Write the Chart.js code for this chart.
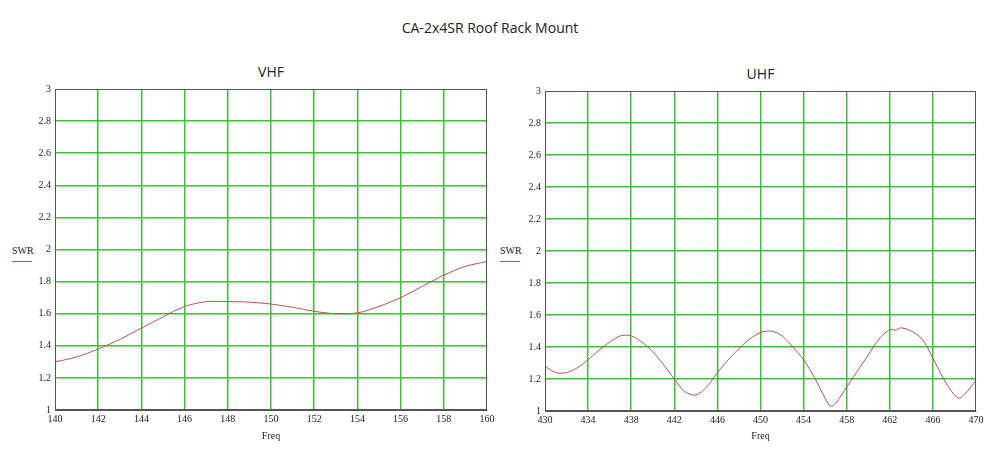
<!DOCTYPE html>
<html><head><meta charset="utf-8">
<script src="https://cdn.jsdelivr.net/npm/chart.js@4"></script>
<style>
body{margin:0;background:#fff;width:1000px;height:458px;position:relative;overflow:hidden;font-family:"Open Sans",sans-serif}
.t{position:absolute;color:#222;text-align:center}
.c{position:absolute}
.swr{position:absolute;font-family:"Liberation Serif",serif;font-size:10px;color:#222}
.swr:after{content:"";display:block;width:20px;height:1px;background:#c0504d;margin-top:5px}
</style></head><body>
<div class="t" style="left:0;width:980px;top:18px;font-size:14px">CA-2x4SR Roof Rack Mount</div>
<div class="t" style="left:55px;width:432px;top:62px;font-size:14px">VHF</div>
<div class="t" style="left:545px;width:431px;top:64px;font-size:14px">UHF</div>
<div class="swr" style="left:12px;top:245px">SWR</div>
<div class="swr" style="left:500px;top:245px">SWR</div>
<div class="c" style="left:0;top:60px;width:500px;height:398px"><canvas id="a"></canvas></div>
<div class="c" style="left:490px;top:60px;width:510px;height:398px"><canvas id="b"></canvas></div>
<script>
const vhfFreq=[140,141,142,143,144,145,146,147,148,149,150,151,152,153,154,155,156,157,158,159,160];
const vhfSwr=[1.30,1.33,1.38,1.44,1.51,1.58,1.645,1.675,1.675,1.672,1.66,1.64,1.615,1.60,1.605,1.645,1.70,1.77,1.84,1.895,1.925];
const uhfFreq=[430,431,432,433,434,435,436,437,438,439,440,441,442,443,444,445,446,447,448,449,450,451,452,453,454,455,456,456.5,457,458,459,460,461,462,462.5,463,464,465,466,467,468,468.5,469,470];
const uhfSwr=[1.28,1.24,1.24,1.27,1.32,1.38,1.43,1.47,1.47,1.43,1.37,1.29,1.20,1.12,1.10,1.15,1.24,1.32,1.39,1.45,1.49,1.50,1.47,1.40,1.32,1.21,1.08,1.03,1.05,1.15,1.25,1.35,1.45,1.51,1.505,1.52,1.50,1.45,1.33,1.20,1.10,1.08,1.11,1.19];
const yTicks=[1,1.2,1.4,1.6,1.8,2,2.2,2.4,2.6,2.8,3];
const frame={id:'frame',afterDraw(c){const a=c.chartArea,x=c.ctx;x.save();x.strokeStyle='#555';x.lineWidth=1;x.strokeRect(Math.round(a.left)+0.5,Math.round(a.top)+0.5,Math.round(a.right-a.left)-1,Math.round(a.bottom-a.top)-1);x.restore();}};
const gcol=c=>(c.index===0||c.index===c.scale.ticks.length-1)?'rgba(0,0,0,0)':'#3cc03c';
function make(id,xs,ys,xmin,xmax,step,pad){
 new Chart(document.getElementById(id),{type:'line',plugins:[frame],
 data:{datasets:[{data:xs.map((x,i)=>({x,y:ys[i]})),borderColor:'#c0504d',borderWidth:1,pointRadius:0,tension:0.3}]},
 options:{responsive:true,maintainAspectRatio:false,animation:false,
  layout:{padding:pad},
  plugins:{legend:{display:false},tooltip:{enabled:false}},
  scales:{
   x:{type:'linear',min:xmin,max:xmax,afterBuildTicks:s=>{s.ticks=[];for(let v=xmin;v<=xmax;v+=step)s.ticks.push({value:v});},
    grid:{color:gcol,lineWidth:1.5,drawTicks:false},border:{color:'#555',width:1},
    ticks:{color:'#222',font:{family:'Liberation Serif',size:10},maxRotation:0,padding:3,callback:v=>String(v)},
    title:{display:true,text:'Freq',color:'#222',font:{family:'Liberation Serif',size:10},padding:{top:4,bottom:16}},
    afterFit:s=>{s.height=pad.xh}},
   y:{min:1,max:3,afterBuildTicks:s=>{s.ticks=yTicks.map(v=>({value:v}));},
    grid:{color:gcol,lineWidth:1.5,drawTicks:false},border:{color:'#555',width:1},
    ticks:{color:'#222',font:{family:'Liberation Serif',size:10},padding:4,callback:v=>String(v)},
    afterFit:s=>{s.width=55}}
  }}});
}
make('a',vhfFreq,vhfSwr,140,160,2,{left:0,right:13,top:29,bottom:0,xh:48});
make('b',uhfFreq,uhfSwr,430,470,4,{left:0,right:24,top:31,bottom:0,xh:47});
</script></body></html>
